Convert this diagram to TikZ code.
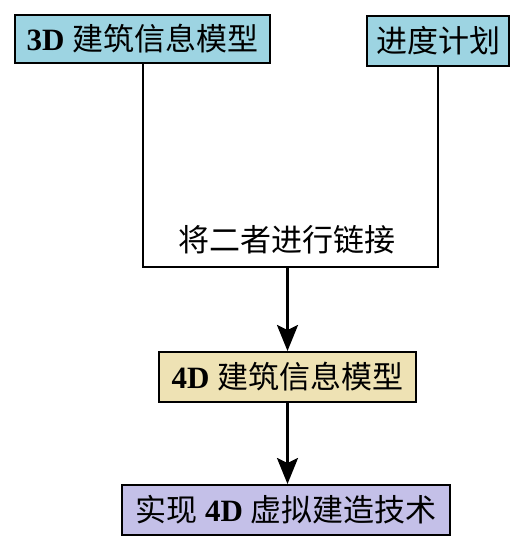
\documentclass[tikz,border=0pt]{standalone}
\usepackage{fontspec}
\setmainfont{Liberation Serif}
\newfontfamily\cjk{Noto Sans CJK SC}
\usetikzlibrary{arrows.meta}
\definecolor{boxblue}{HTML}{9DD4E2}
\definecolor{boxtan}{HTML}{EEE2B4}
\definecolor{boxlav}{HTML}{C4C0E8}
\tikzset{
  stepbox/.style={draw=black, line width=2pt, inner sep=0pt, minimum height=48pt,
    font=\fontsize{31}{33}\selectfont},
  conn/.style={line width=2pt},
  arr/.style={line width=2.5pt, -{Stealth[length=26pt,width=21pt,inset=5pt]}}
}
\begin{document}
\begin{tikzpicture}[x=1pt,y=-1pt]
\useasboundingbox (0,0) rectangle (519,551);
\node[stepbox, fill=boxblue, minimum width=255pt] (b1) at (142.5,39) {\textbf{3D} {\cjk 建筑信息模型}};
\node[stepbox, fill=boxblue, minimum width=142pt, minimum height=50pt] (b2) at (438,41) {\cjk 进度计划};
\node[font=\fontsize{31}{33}\selectfont] (link) at (287,240) {\cjk 将二者进行链接};
\node[stepbox, fill=boxtan, minimum width=257pt, minimum height=50pt] (b3) at (287.5,377) {\textbf{4D} {\cjk 建筑信息模型}};
\node[stepbox, fill=boxlav, minimum width=328pt, minimum height=50pt] (b4) at (286,510) {{\cjk 实现} \textbf{4D} {\cjk 虚拟建造技术}};
\coordinate (bl) at (142.5,267);
\coordinate (br) at (438,267);
\coordinate (bm) at (287.5,267);
\draw[conn] (b1.south) -- (bl) -- (br) -- (b2.south);
\draw[arr] (bm) -- (b3.north);
\draw[arr] (b3.south) -- (b3.south |- b4.north);
\end{tikzpicture}
\end{document}
